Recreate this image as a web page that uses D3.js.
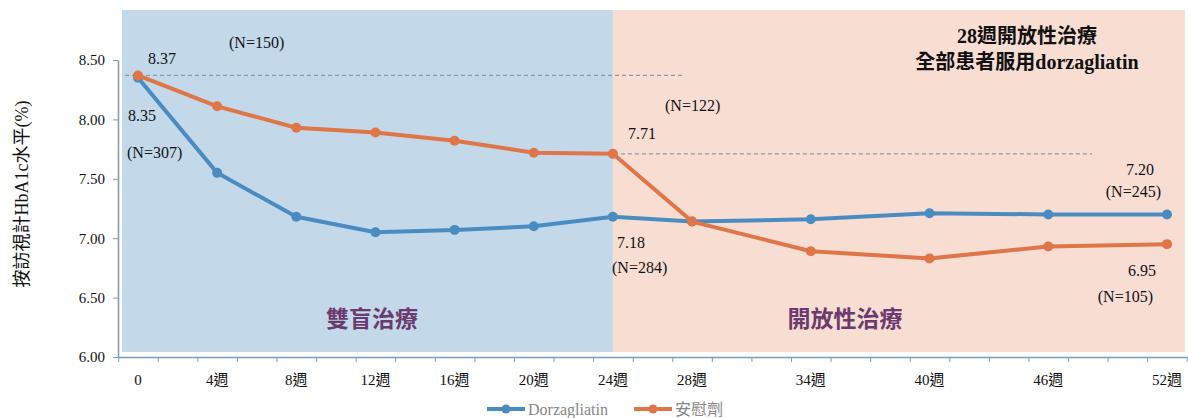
<!DOCTYPE html>
<html>
<head>
<meta charset="utf-8">
<script src="https://cdn.jsdelivr.net/npm/d3@7"></script>
<style>
  body { margin: 0; background: #fff; }
  text { font-family: "Liberation Serif", "Noto Sans CJK TC", serif; fill: #111; }
</style>
</head>
<body>
<div id="container"></div>
<script>
// Chart data
var weeks = [0, 4, 8, 12, 16, 20, 24, 28, 34, 40, 46, 52];
var tickLabels = ["0", "4週", "8週", "12週", "16週", "20週", "24週", "28週", "34週", "40週", "46週", "52週"];
var dorzagliatin = [8.35, 7.55, 7.18, 7.05, 7.07, 7.10, 7.18, 7.14, 7.16, 7.21, 7.20, 7.20];
var placebo = [8.37, 8.11, 7.93, 7.89, 7.82, 7.72, 7.71, 7.14, 6.89, 6.83, 6.93, 6.95];
var yTicks = [6.0, 6.5, 7.0, 7.5, 8.0, 8.5];
var seriesNames = ["Dorzagliatin", "安慰劑"];

var width = 1188,
    height = 418;

var svg = d3.select("#container")
    .append("svg")
    .attr("width", width)
    .attr("height", height);

// Scales (weeks are spaced linearly)
var x = d3.scaleLinear().domain([0, 52]).range([138, 1167]);
var y = d3.scaleLinear().domain([6, 8.5]).range([357, 60]);

var blue = "#4a8cc2", orange = "#e07548";

// Phase backgrounds
svg.append("rect")
    .attr("x", 122).attr("y", 10)
    .attr("width", x(24) - 122).attr("height", 342)
    .attr("fill", "#c3d9e9");
svg.append("rect")
    .attr("x", x(24)).attr("y", 10)
    .attr("width", 1185 - x(24)).attr("height", 342)
    .attr("fill", "#f8ddd3");

// Y axis
var yAxis = d3.axisLeft(y)
    .tickValues(yTicks)
    .tickFormat(d3.format(".2f"))
    .tickSize(5)
    .tickSizeOuter(0);
var gy = svg.append("g")
    .attr("transform", "translate(118,0)")
    .call(yAxis);
gy.select(".domain").attr("stroke", "#7d9cb3").attr("stroke-width", 1.5);
gy.selectAll(".tick line").attr("stroke", "#7d9cb3");
gy.selectAll(".tick text")
    .attr("x", -13)
    .style("font-size", "15px")
    .style("font-family", "Liberation Serif");

// X axis: minor ticks every 2 weeks from -1
var xAxis = d3.axisBottom(x.copy().domain([-1, 53]).range([x(-1), x(53)]))
    .tickValues(d3.range(-1, 54, 2))
    .tickFormat("")
    .tickSize(5)
    .tickSizeOuter(0);
var gx = svg.append("g")
    .attr("transform", "translate(0,357)")
    .call(xAxis);
gx.select(".domain").attr("stroke", "#7d9cb3").attr("stroke-width", 1.5);
gx.selectAll(".tick line").attr("stroke", "#7d9cb3");

svg.selectAll(".xlabel")
    .data(weeks)
    .enter()
    .append("text")
    .attr("class", "xlabel")
    .attr("x", function(d) { return x(d); })
    .attr("y", 385)
    .attr("text-anchor", "middle")
    .style("font-size", "15px")
    .text(function(d, i) { return tickLabels[i]; });

// Y axis title
svg.append("text")
    .attr("transform", "translate(28,194) rotate(-90)")
    .attr("text-anchor", "middle")
    .style("font-size", "18px")
    .text("按訪視計HbA1c水平(%)");

// Dashed reference lines
svg.append("line")
    .attr("x1", 125).attr("x2", 682)
    .attr("y1", y(8.37)).attr("y2", y(8.37))
    .attr("stroke", "#8c9aa6").attr("stroke-width", 1.2)
    .attr("stroke-dasharray", "4,3");
svg.append("line")
    .attr("x1", x(24) + 8).attr("x2", 1092)
    .attr("y1", y(7.71)).attr("y2", y(7.71))
    .attr("stroke", "#8c9aa6").attr("stroke-width", 1.2)
    .attr("stroke-dasharray", "4,3");

// Lines and points
var line = d3.line()
    .x(function(d) { return x(d[0]); })
    .y(function(d) { return y(d[1]); });

[[dorzagliatin, blue], [placebo, orange]].forEach(function(s) {
    var pts = weeks.map(function(w, i) { return [w, s[0][i]]; });
    svg.append("path")
        .datum(pts)
        .attr("fill", "none")
        .attr("stroke", s[1])
        .attr("stroke-width", 4)
        .attr("stroke-linejoin", "round")
        .attr("d", line);
    svg.selectAll(null)
        .data(pts)
        .enter()
        .append("circle")
        .attr("cx", function(d) { return x(d[0]); })
        .attr("cy", function(d) { return y(d[1]); })
        .attr("r", 5)
        .attr("fill", s[1]);
});

// Value annotations
var notes = [
    ["8.37", 148, 64, "start"],
    ["(N=150)", 229, 48, "start"],
    ["8.35", 128, 121, "start"],
    ["(N=307)", 127, 158, "start"],
    ["(N=122)", 665, 111, "start"],
    ["7.71", 628, 139, "start"],
    ["7.18", 617, 248, "start"],
    ["(N=284)", 612, 273, "start"],
    ["7.20", 1154, 175, "end"],
    ["(N=245)", 1161, 197, "end"],
    ["6.95", 1156, 276, "end"],
    ["(N=105)", 1153, 302, "end"]
];
svg.selectAll(".note")
    .data(notes)
    .enter()
    .append("text")
    .attr("class", "note")
    .attr("x", function(d) { return d[1]; })
    .attr("y", function(d) { return d[2]; })
    .attr("text-anchor", function(d) { return d[3]; })
    .style("font-size", "16px")
    .text(function(d) { return d[0]; });

// Heading in the open-label phase
svg.append("text")
    .attr("x", 1027).attr("y", 43)
    .attr("text-anchor", "middle")
    .style("font-size", "20px").style("font-weight", "bold")
    .text("28週開放性治療");
svg.append("text")
    .attr("x", 1027).attr("y", 69)
    .attr("text-anchor", "middle")
    .style("font-size", "20px").style("font-weight", "bold")
    .text("全部患者服用dorzagliatin");

// Phase labels
svg.append("text")
    .attr("x", 372).attr("y", 327)
    .attr("text-anchor", "middle")
    .style("font-size", "23px")
    .style("font-weight", "bold")
    .style("fill", "#6b3a6e")
    .text("雙盲治療");
svg.append("text")
    .attr("x", 845).attr("y", 327)
    .attr("text-anchor", "middle")
    .style("font-size", "23px")
    .style("font-weight", "bold")
    .style("fill", "#6b3a6e")
    .text("開放性治療");

// Legend
var legend = svg.selectAll(".legend")
    .data(seriesNames)
    .enter()
    .append("g")
    .attr("class", "legend")
    .attr("transform", function(d, i) { return "translate(" + (i === 0 ? 487 : 634) + ",409)"; });
legend.append("line")
    .attr("x1", 0).attr("x2", 38)
    .attr("stroke", function(d, i) { return i === 0 ? blue : orange; })
    .attr("stroke-width", 4);
legend.append("circle")
    .attr("cx", 19).attr("r", 4.5)
    .attr("fill", function(d, i) { return i === 0 ? blue : orange; });
legend.append("text")
    .attr("x", 41).attr("y", 6)
    .style("font-size", "16px")
    .style("fill", "#888")
    .text(function(d) { return d; });
</script>
</body>
</html>
